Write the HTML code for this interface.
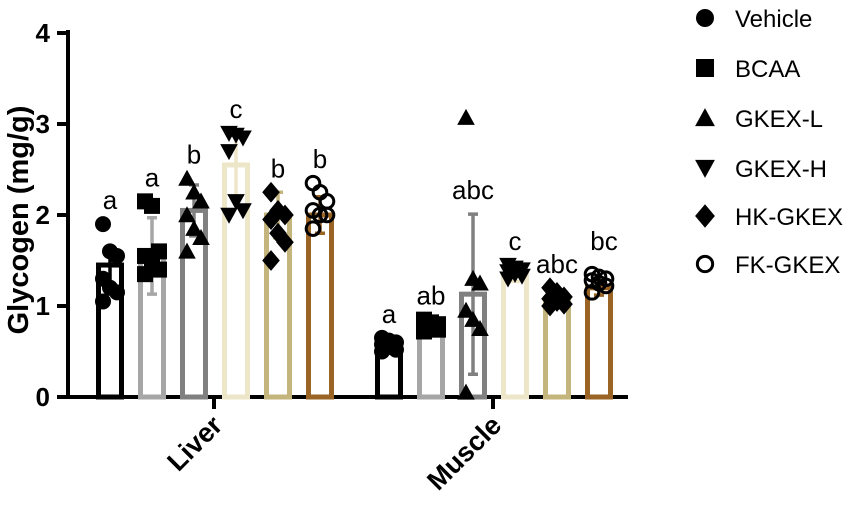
<!DOCTYPE html>
<html><head><meta charset="utf-8"><style>
body{margin:0;background:#fff}
svg{font-family:"Liberation Sans",Arial,sans-serif}
</style></head><body>
<svg id="c" width="850" height="511" viewBox="0 0 850 511"></svg>
<script>
const groups=["Liver","Muscle"];
const seriesNames=["Vehicle","BCAA","GKEX-L","GKEX-H","HK-GKEX","FK-GKEX"];
const colors=["#000000","#a6a6a6","#808080","#ede6c8","#c4b57c","#9a6424"];
const markers=["circle","square","tri","tridown","diamond","ocircle"];
const liverMeans=[1.45,1.55,2.05,2.55,2.0,2.0];
const muscleMeans=[0.55,0.75,1.13,1.35,1.08,1.2];
const liverSD=[0.2,0.42,0.28,0.35,0.25,0.2];
const muscleSD=[0.05,0.05,0.88,0.08,0.1,0.08];
const liverLetters=["a","a","b","c","b","b"];
const muscleLetters=["a","ab","abc","c","abc","bc"];
const liverPts=[[1.9,1.6,1.55,1.3,1.2,1.15,1.05],[2.15,2.1,1.6,1.55,1.5,1.4,1.35],[2.4,2.25,2.15,2.0,1.85,1.75,1.6],[2.9,2.88,2.85,2.7,2.15,2.05,2.0],[2.25,2.05,2.0,1.95,1.8,1.7,1.5],[2.35,2.25,2.15,2.05,2.0,2.0,1.85]];
const musclePts=[[0.65,0.62,0.6,0.58,0.55,0.52,0.5],[0.85,0.82,0.8,0.78,0.76,0.74,0.72],[3.07,1.3,1.25,0.95,0.85,0.75,0.05],[1.45,1.42,1.4,1.38,1.35,1.33,1.3],[1.2,1.15,1.1,1.08,1.05,1.02,1.0],[1.35,1.32,1.3,1.28,1.25,1.22,1.15]];
const yTicks=[0,1,2,3,4];
const svg=document.getElementById('c');
const NS="http://www.w3.org/2000/svg";
function y(v){return 397-v*91;}
function x(g,s){return (g===0?110:389)+s*42;}
function el(t,a,p){const e=document.createElementNS(NS,t);for(const k in a)e.setAttribute(k,a[k]);(p||svg).appendChild(e);return e;}
function marker(type,cx,cy,r){
 let e;
 if(type==="circle")e=el("circle",{cx,cy,r:r,fill:"#000"});
 else if(type==="square")e=el("rect",{x:cx-r,y:cy-r,width:2*r,height:2*r,fill:"#000"});
 else if(type==="tri")e=el("polygon",{points:`${cx},${cy-r*1.1} ${cx-r*1.1},${cy+r*0.9} ${cx+r*1.1},${cy+r*0.9}`,fill:"#000"});
 else if(type==="tridown")e=el("polygon",{points:`${cx},${cy+r*1.1} ${cx-r*1.1},${cy-r*0.9} ${cx+r*1.1},${cy-r*0.9}`,fill:"#000"});
 else if(type==="diamond")e=el("polygon",{points:`${cx},${cy-r*1.3} ${cx+r*1.1},${cy} ${cx},${cy+r*1.3} ${cx-r*1.1},${cy}`,fill:"#000"});
 else e=el("circle",{cx,cy,r:r*0.85,fill:"none",stroke:"#000","stroke-width":3});
 return e;
}
let a=el("line",{x1:68,y1:397,x2:628,y2:397,stroke:"#000","stroke-width":4});

a=el("line",{x1:68,y1:30,x2:68,y2:399,stroke:"#000","stroke-width":4});

yTicks.forEach(t=>{
 const l=el("line",{x1:57,y1:y(t),x2:68,y2:y(t),stroke:"#000","stroke-width":4});
 
 const tx=el("text",{x:50,y:y(t)+9,"text-anchor":"end","font-size":26,"font-weight":"bold"});
 tx.textContent=t;
 
});
const yt=el("text",{x:28,y:220,"text-anchor":"middle","font-size":29,"font-weight":"bold",transform:"rotate(-90 28 220)"});
yt.textContent="Glycogen (mg/g)";

[214,493].forEach((gx,g)=>{
 const l=el("line",{x1:gx,y1:397,x2:gx,y2:409,stroke:"#000","stroke-width":4});
 
 const tx=el("text",{x:gx+10,y:427,"text-anchor":"end","font-size":27,"font-weight":"bold",transform:`rotate(-45 ${gx+10} 427)`});
 tx.textContent=groups[g];
 
});
[[liverMeans,liverSD,liverLetters,liverPts],[muscleMeans,muscleSD,muscleLetters,musclePts]].forEach((d,g)=>{
 d[0].forEach((m,s)=>{
  const cx=x(g,s);
  const b=el("rect",{x:cx-11.5,y:y(m),width:23,height:397-y(m),fill:"none",stroke:colors[s],"stroke-width":5});
  
  const sd=d[1][s];
  const e=el("path",{d:`M${cx},${y(m-sd)}V${y(m+sd)}M${cx-5},${y(m+sd)}H${cx+5}M${cx-5},${y(m-sd)}H${cx+5}`,stroke:colors[s],"stroke-width":3.5,fill:"none"});
  
  d[3][s].forEach((v,i)=>{
   const mk=marker(markers[s],cx+((i%3)-1)*7,y(v),8);
   
  });
  const top=Math.max(m+sd,Math.max(...d[3][s].filter(v=>v<2.5||g===0)));
  const lt=el("text",{x:cx+(g===1&&s===5?5:0),y:y(top)-(g===1&&s===5?24:15),"text-anchor":"middle","font-size":26});
  lt.textContent=d[2][s];
  
 });
});
const legY=[18,68,118,168,216,264];
seriesNames.forEach((n,i)=>{
 const mk=marker(markers[i],705,legY[i],9);
 
 const t=el("text",{x:735,y:legY[i]+9,"font-size":24});
 t.textContent=n;
 
});
</script>
</body></html>
